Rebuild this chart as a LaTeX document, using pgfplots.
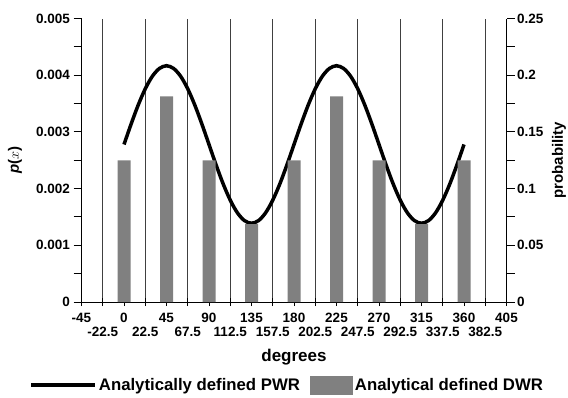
\documentclass[border=0pt]{standalone}
\usepackage{pgfplots}
\pgfplotsset{compat=1.18}
\usepackage{fontspec}
\setmainfont{Liberation Sans}
\setsansfont{Liberation Sans}
\begin{document}
\begin{tikzpicture}
\useasboundingbox (0pt,0pt) rectangle (568pt,397pt);
\pgfplotsset{
  common/.style={
    at={(81.5pt,95pt)}, anchor=south west,
    width=425pt, height=283.5pt, scale only axis,
    xmin=-45, xmax=405,
    font=\bfseries\fontsize{13.5}{15}\selectfont,
    tick label style={font=\bfseries\fontsize{13.5}{15}\selectfont},
    /pgf/number format/assume math mode=true,
    scaled y ticks=false,
    tick style={black, line width=1pt},
    axis line style={black, line width=1pt},
  }
}
\begin{axis}[common,
  axis x line*=bottom, axis y line*=left,
  ymin=0, ymax=0.005,
  ytick={0,0.001,0.002,0.003,0.004,0.005},
  minor y tick num=1,
  yticklabels={0,0.001,0.002,0.003,0.004,0.005},
  tick align=center,
  major tick length=8pt, minor tick length=8pt,
  y tick style={xshift=-4pt},
  yticklabel style={anchor=east, xshift=-4pt},
  xtick={-45,0,45,90,135,180,225,270,315,360,405},
  xticklabels={-45,0,45,90,135,180,225,270,315,360,405},
  xticklabel style={anchor=center, yshift=-12pt},
  extra x ticks={-22.5,22.5,67.5,112.5,157.5,202.5,247.5,292.5,337.5,382.5},
  extra x tick labels={-22.5,22.5,67.5,112.5,157.5,202.5,247.5,292.5,337.5,382.5},
  extra x tick style={grid=major, major grid style={black!75, line width=1pt}, xticklabel style={yshift=-13.5pt}},
  xlabel={degrees},
  every axis x label/.style={at={([yshift=-55pt]axis description cs:0.5,0)}, anchor=center},
  xlabel style={font=\bfseries\fontsize{17}{19}\selectfont},
  ylabel={\textbf{\textit{p}}\textbf{(}$x$\textbf{)}},
  every axis y label/.style={at={([xshift=-66.5pt]axis description cs:0,0.5)}, anchor=center, rotate=90},
  ylabel style={font=\bfseries\fontsize{15}{17}\selectfont},
]
\addplot[black, line width=3.5pt, smooth] coordinates {
(0,0.002778) (7.5,0.003137) (15,0.003472) (22.5,0.003760) (30,0.003981) (37.5,0.004119) (45,0.004167)
(52.5,0.004119) (60,0.003981) (67.5,0.003760) (75,0.003472) (82.5,0.003137) (90,0.002778)
(97.5,0.002418) (105,0.002083) (112.5,0.001796) (120,0.001575) (127.5,0.001436) (135,0.001389)
(142.5,0.001436) (150,0.001575) (157.5,0.001796) (165,0.002083) (172.5,0.002418) (180,0.002778)
(187.5,0.003137) (195,0.003472) (202.5,0.003760) (210,0.003981) (217.5,0.004119) (225,0.004167)
(232.5,0.004119) (240,0.003981) (247.5,0.003760) (255,0.003472) (262.5,0.003137) (270,0.002778)
(277.5,0.002418) (285,0.002083) (292.5,0.001796) (300,0.001575) (307.5,0.001436) (315,0.001389)
(322.5,0.001436) (330,0.001575) (337.5,0.001796) (345,0.002083) (352.5,0.002418) (360,0.002778)
};
\end{axis}
\begin{axis}[common,
  axis x line=none, axis y line*=right,
  ymin=0, ymax=0.25,
  ytick={0,0.05,0.1,0.15,0.2,0.25},
  yticklabels={0,0.05,0.1,0.15,0.2,0.25},
  minor y tick num=1,
  tick align=outside,
  major tick length=8pt, minor tick length=8pt,
  yticklabel style={anchor=west, xshift=-1pt},
  ylabel={probability},
  every axis y label/.style={at={([xshift=52.5pt]axis description cs:1,0.5)}, anchor=center, rotate=90},
  ylabel style={font=\bfseries\fontsize{15}{17}\selectfont},
  legend style={at={(0.484,-0.293)}, anchor=center, draw=none, fill=none,
    legend columns=2, font=\bfseries\fontsize{16.75}{18}\selectfont,
    inner sep=0pt,
    /tikz/every even column/.append style={column sep=8pt}},
]
\addlegendimage{black, line width=3.5pt, legend image code/.code={\draw[black, line width=3.5pt] (0cm,0cm) -- (64pt,0cm);}}
\addlegendentry{Analytically defined PWR}
\addplot[ybar, bar width=13pt, fill=black!50, draw=none,
  legend image code/.code={\fill[black!50] (0pt,-9.5pt) rectangle (43pt,9.5pt);}] coordinates {
(0,0.125) (45,0.18125) (90,0.125) (135,0.06875) (180,0.125) (225,0.18125) (270,0.125) (315,0.06875) (360,0.125)
};
\addlegendentry{Analytical defined DWR}
\end{axis}
\end{tikzpicture}
\end{document}
